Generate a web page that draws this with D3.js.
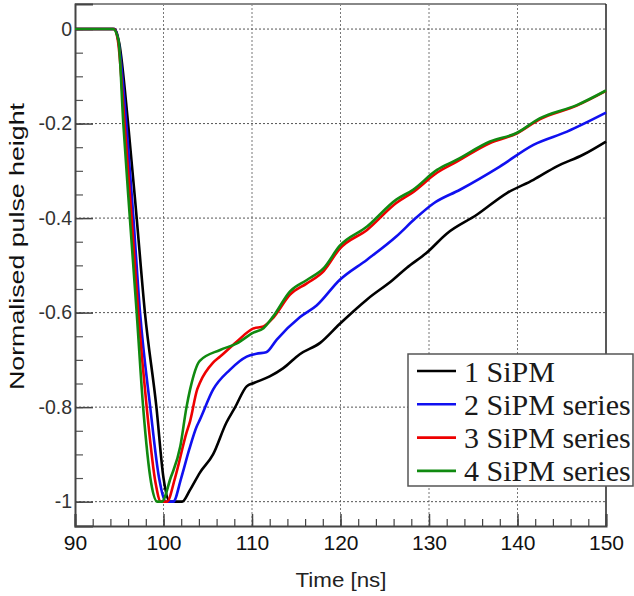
<!DOCTYPE html>
<html>
<head>
<meta charset="utf-8">
<script src="https://cdn.jsdelivr.net/npm/d3@7"></script>
<style>
  body { margin: 0; background: #fff; }
  text { font-family: "Liberation Sans", Arial, sans-serif; }
</style>
</head>
<body>
<svg id="chart"></svg>
<script>
// pulse shapes, [time ns, normalised height]
const sipm1 = [[90,0],[94.5,0],[95.0,-0.03],[96.0,-0.2],[96.97,-0.4],[97.9,-0.6],[99.2,-0.8],[100.0,-0.95],[100.7,-1],[102.1,-1],
  [103.0,-0.975],[104.1,-0.939],[105.6,-0.9],[107.1,-0.833],[108.1,-0.8],[109.4,-0.756],[110.2,-0.749],[112.0,-0.735],[113.5,-0.718],
  [115.4,-0.688],[117.7,-0.664],[119.9,-0.624],[123.0,-0.572],[125.9,-0.531],[127.5,-0.505],[129.7,-0.474],[132.0,-0.433],[135.4,-0.393],
  [138.8,-0.347],[141.8,-0.319],[144.4,-0.291],[147.4,-0.266],[150,-0.238]];
const sipm2 = [[90,0],[94.45,0],[94.9,-0.025],[95.8,-0.2],[96.6,-0.4],[97.35,-0.6],[98.5,-0.8],[99.5,-0.95],[100.3,-1],[101.1,-1],
  [102.0,-0.95],[102.9,-0.89],[103.75,-0.841],[104.1,-0.827],[105.6,-0.763],[107.5,-0.721],[109.4,-0.693],[110.5,-0.687],[111.6,-0.684],
  [112.8,-0.657],[115.4,-0.610],[117.3,-0.585],[119.9,-0.531],[123.0,-0.488],[126.3,-0.439],[128.5,-0.400],[130.5,-0.369],[133.5,-0.340],
  [138.0,-0.291],[141.8,-0.245],[145.6,-0.217],[150,-0.177]];
const sipm3 = [[90,0],[94.4,0],[94.85,-0.025],[95.6,-0.2],[96.4,-0.4],[97.15,-0.6],[98.1,-0.8],[99.1,-0.96],[99.7,-1],[100.4,-1],
  [101.3,-0.95],[102.6,-0.854],[103.0,-0.83],[103.8,-0.763],[104.1,-0.749],[105.6,-0.706],[106.4,-0.693],[108.3,-0.661],[110.1,-0.634],
  [111.3,-0.629],[112.4,-0.611],[114.3,-0.562],[116.2,-0.538],[118.1,-0.512],[119.9,-0.465],[123.0,-0.425],[126.3,-0.368],[128.2,-0.345],
  [130.9,-0.304],[133.1,-0.281],[136.9,-0.241],[139.9,-0.221],[142.5,-0.191],[146.7,-0.162],[150,-0.131]];
const sipm4 = [[90,0],[94.3,0],[94.9,-0.023],[95.46,-0.2],[96.2,-0.4],[96.97,-0.6],[97.7,-0.8],[98.6,-0.96],[99.3,-1],[99.8,-1],
  [100.8,-0.95],[101.9,-0.883],[102.6,-0.8],[103.0,-0.763],[104.1,-0.702],[106.4,-0.679],[108.3,-0.665],[110.1,-0.643],[111.3,-0.633],
  [112.4,-0.608],[114.3,-0.555],[116.2,-0.531],[118.1,-0.506],[119.9,-0.459],[123.0,-0.418],[126.3,-0.361],[128.2,-0.340],[130.9,-0.298],
  [133.1,-0.277],[136.9,-0.238],[139.9,-0.220],[142.5,-0.189],[146.7,-0.161],[150,-0.130]];

const seriesNames = ["1 SiPM", "2 SiPM series", "3 SiPM series", "4 SiPM series"];
const seriesData = [sipm1, sipm2, sipm3, sipm4];
const seriesColors = ["#000000", "#1010f0", "#ee0000", "#108a10"];

const xTicks = [90, 100, 110, 120, 130, 140, 150];
const yTicks = [0, -0.2, -0.4, -0.6, -0.8, -1];
const yTickLabels = ["0", "-0.2", "-0.4", "-0.6", "-0.8", "-1"];

const W = 634, H = 596;
const margin = {top: 4, right: 28, bottom: 70, left: 75};
const width = W - margin.left - margin.right,
    height = H - margin.top - margin.bottom;

const svg = d3.select("#chart")
    .attr("width", W)
    .attr("height", H)
    .append("g")
    .attr("transform", "translate(" + margin.left + "," + margin.top + ")");

const x = d3.scaleLinear().domain([90, 150]).range([0, width]);
const y = d3.scaleLinear().domain([-1.0515, 0.053]).range([height, 0]);

// grid (dotted)
svg.append("g").selectAll("line")
    .data(xTicks.slice(1, -1))
    .enter().append("line")
    .attr("x1", d => x(d)).attr("x2", d => x(d))
    .attr("y1", 0).attr("y2", height)
    .attr("stroke", "#777").attr("stroke-width", 1)
    .attr("stroke-dasharray", "2,2");
svg.append("g").selectAll("line")
    .data(yTicks)
    .enter().append("line")
    .attr("x1", 0).attr("x2", width)
    .attr("y1", d => y(d)).attr("y2", d => y(d))
    .attr("stroke", "#555").attr("stroke-width", 1)
    .attr("stroke-dasharray", "2,2");

// frame
svg.append("line").attr("x1", 0).attr("x2", width).attr("y1", 0).attr("y2", 0)
    .attr("stroke", "#888").attr("stroke-width", 2);
svg.append("line").attr("x1", width).attr("x2", width).attr("y1", 0).attr("y2", height)
    .attr("stroke", "#222").attr("stroke-width", 1.5);

// axes with inward ticks
const xMinor = d3.range(90, 151, 2);
svg.append("g")
    .attr("transform", "translate(0," + height + ")")
    .call(d3.axisTop(x).tickValues(xMinor).tickSize(7).tickFormat(""))
    .call(g => g.select(".domain").remove())
    .selectAll("line").attr("stroke", "#444").attr("stroke-width", 1.2);
const xAxis = svg.append("g")
    .attr("transform", "translate(0," + height + ")")
    .call(d3.axisBottom(x).tickValues(xTicks).tickSize(-12).tickFormat(d3.format("d")));
xAxis.select(".domain").attr("stroke", "#444").attr("stroke-width", 2);
xAxis.selectAll(".tick line").attr("stroke", "#444").attr("stroke-width", 1.5);
xAxis.selectAll("text").attr("font-size", 21).attr("fill", "#111")
    .attr("font-family", "Liberation Sans, Arial, sans-serif").attr("dy", null).attr("y", 24);

const yMinor = d3.range(0, 21).map(i => -i * 0.05);
svg.append("g")
    .call(d3.axisRight(y).tickValues(yMinor).tickSize(8).tickFormat(""))
    .call(g => g.select(".domain").remove())
    .selectAll("line").attr("stroke", "#555").attr("stroke-width", 1.2);
const yAxis = svg.append("g")
    .call(d3.axisLeft(y).tickValues(yTicks).tickSize(-18).tickFormat((d, i) => yTickLabels[i]));
yAxis.select(".domain").attr("stroke", "#444").attr("stroke-width", 2);
yAxis.selectAll(".tick line").attr("stroke", "#444").attr("stroke-width", 1.5);
yAxis.selectAll("text").attr("font-size", 19.5).attr("fill", "#333")
    .attr("font-family", "Liberation Sans, Arial, sans-serif").attr("x", -3);

// curves
const line = d3.line()
    .x(d => x(d[0]))
    .y(d => y(d[1]))
    .curve(d3.curveMonotoneX);

svg.selectAll(".curve")
    .data(seriesData)
    .enter().append("path")
    .attr("class", "curve")
    .attr("fill", "none")
    .attr("stroke", (d, i) => seriesColors[i])
    .attr("stroke-width", 2.6)
    .attr("stroke-linejoin", "round")
    .attr("d", line);

// axis titles
svg.append("text")
    .attr("x", width / 2 + 0.5)
    .attr("y", height + 60.5)
    .attr("text-anchor", "middle")
    .attr("font-size", 20)
    .attr("textLength", 91)
    .attr("lengthAdjust", "spacingAndGlyphs")
    .attr("fill", "#222")
    .text("Time [ns]");
svg.append("text")
    .attr("transform", "rotate(-90)")
    .attr("x", -242.5)
    .attr("y", -51)
    .attr("text-anchor", "middle")
    .attr("font-size", 20)
    .attr("textLength", 287)
    .attr("lengthAdjust", "spacingAndGlyphs")
    .attr("fill", "#111")
    .text("Normalised pulse height");

// legend
const leg = d3.select("#chart").append("g").attr("transform", "translate(408,354)");
leg.append("rect")
    .attr("width", 225).attr("height", 132)
    .attr("fill", "#fff").attr("stroke", "#555").attr("stroke-width", 1.5);
const rows = leg.selectAll(".row")
    .data(seriesNames)
    .enter().append("g")
    .attr("transform", (d, i) => "translate(0," + (17 + i * 33.3) + ")");
rows.append("line")
    .attr("x1", 9).attr("x2", 48)
    .attr("stroke", (d, i) => seriesColors[i]).attr("stroke-width", 2.6);
rows.append("text")
    .attr("x", 56)
    .attr("dy", "0.35em")
    .attr("font-size", 30)
    .attr("fill", "#1a1a1a")
    .style("font-family", "Liberation Serif, serif")
    .text(d => d);
</script>
</body>
</html>
